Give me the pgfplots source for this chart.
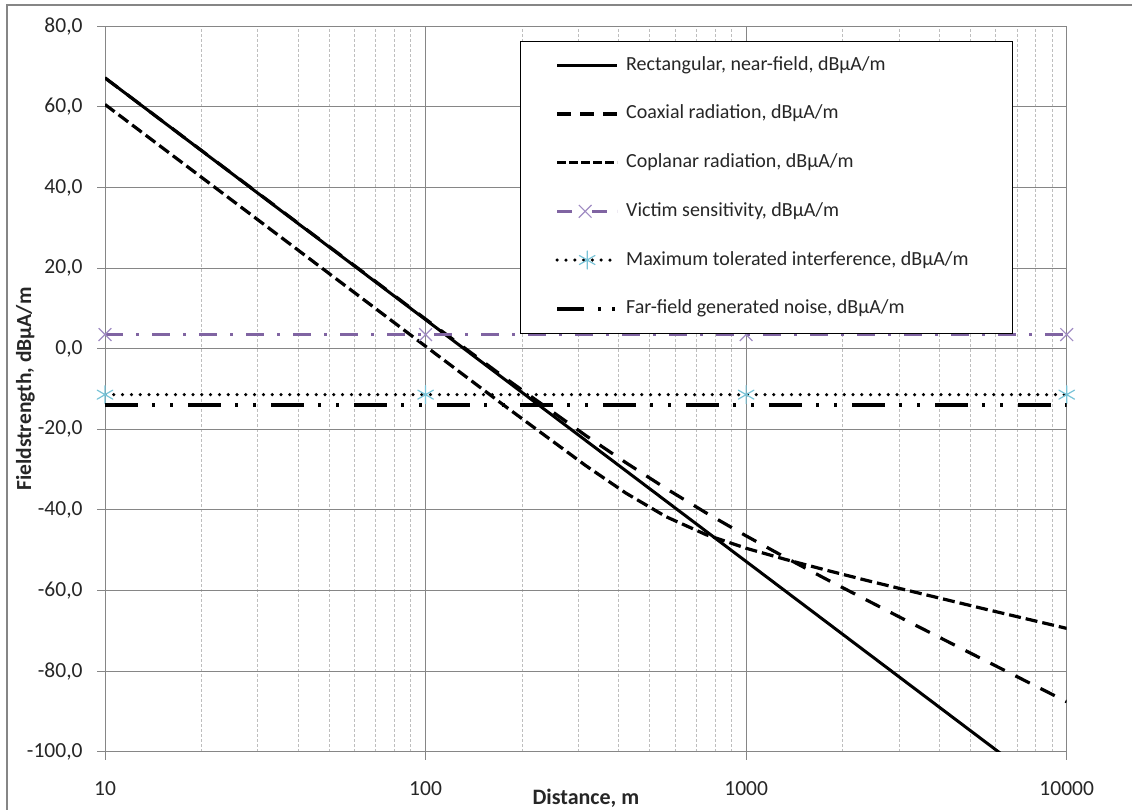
\documentclass[border=0pt]{standalone}
\usepackage{fontspec}
\setmainfont{Carlito}
\usepackage{pgfplots}
\pgfplotsset{compat=1.18}
\definecolor{gridc}{RGB}{134,134,134}
\definecolor{minorc}{RGB}{190,190,190}
\definecolor{vic}{RGB}{128,100,162}
\definecolor{vicm}{RGB}{160,140,195}
\definecolor{maxm}{RGB}{120,195,215}
\definecolor{txt}{RGB}{38,38,38}
\begin{document}
\begin{tikzpicture}[font=\fontsize{20}{24}\selectfont, x=1pt, y=1pt]
\useasboundingbox (0,0) rectangle (1132,809);
\draw[gridc, line width=2pt] (7,-5) -- (7,804) -- (1140,804);
\begin{axis}[
  at={(105pt,57.3pt)}, anchor=south west,
  width=961.7pt, height=725.4pt, scale only axis,
  xmode=log, xmin=10, xmax=10000, ymin=-100, ymax=80,
  xtick={10,100,1000,10000}, xticklabels={10,100,1000,10000},
  ytick={-100,-80,...,80},
  /pgf/number format/assume math mode=true,
  /pgf/number format/fixed, /pgf/number format/fixed zerofill,
  /pgf/number format/precision=1, /pgf/number format/use comma,
  tick align=outside, tick pos=left,
  major tick length=8pt, minor tick length=0pt,
  tick style={gridc, line width=1pt},
  axis line style={gridc, line width=1pt},
  xmajorgrids=true, xminorgrids=true, ymajorgrids=true,
  major grid style={gridc, line width=1pt},
  minor grid style={minorc, line width=1pt, dash pattern=on 3pt off 2pt},
  ticklabel style={txt, inner sep=0pt, font=\fontsize{21.5}{25}\selectfont},
  yticklabel style={anchor=east, xshift=-14.3pt},
  xticklabel style={anchor=north, yshift=-21.5pt},
  xlabel={\bfseries Distance, m},
  ylabel={\bfseries Fieldstrength, dBµA/m},
  xlabel style={at={(axis description cs:0.5,-0.0639)}, anchor=center, txt, font=\fontsize{22}{26}\selectfont},
  ylabel style={at={(axis description cs:-0.08267,0.5)}, anchor=center, txt, font=\fontsize{21.5}{25}\selectfont},
  clip mode=individual,
  legend cell align=left,
  legend style={at={(0.4315,0.9797)}, anchor=north west, draw=black, fill=white,
    inner xsep=35pt, inner ysep=15pt, row sep=30.7pt, column sep=7pt,
    nodes={inner sep=0pt, text height=14pt, text depth=4pt, txt}},
  legend image code/.code={\draw[mark repeat=2,mark phase=2] plot coordinates {(0pt,0pt) (30pt,0pt) (60pt,0pt)};},
]
\addplot[black, line width=3pt, solid] coordinates {(10,67.2) (100,7.2) (1000,-52.8) (10000,-112.8)};
\addlegendentry{\makebox[351pt][l]{Rectangular, near-field, dBµA/m}}
\addplot[black, line width=3.2pt, dash pattern=on 16pt off 12pt,
  legend image code/.code={\draw[dash pattern=on 14pt off 9pt] (0pt,0pt) -- (60pt,0pt);}] coordinates {
(10,67.2) (100,7.34) (177.8,-7.36) (316.2,-21.56) (421.7,-28.29) (562.3,-34.69) (749.9,-40.73) (1000,-46.45) (1334,-51.92) (1778,-57.19) (3162,-67.47) (5623,-77.56) (10000,-87.6)};
\addlegendentry{\makebox[351pt][l]{Coaxial radiation, dBµA/m}}
\addplot[black, line width=3.2pt, dash pattern=on 12pt off 5pt,
  legend image code/.code={\draw[dash pattern=on 9pt off 3pt] (0pt,0pt) -- (60pt,0pt);}] coordinates {
(10,60.6) (31.62,30.6) (100,0.6) (177.8,-14.37) (316.2,-29.03) (421.7,-35.84) (562.3,-41.68) (749.9,-46.15) (1000,-49.52) (1334,-52.34) (1778,-54.95) (2371,-57.48) (3162,-59.9) (5623,-64.7) (10000,-69.4)};
\addlegendentry{\makebox[351pt][l]{Coplanar radiation, dBµA/m}}
\addplot[vic, line width=3pt, dash pattern=on 18pt off 13pt on 3pt off 13pt, mark=x, mark size=9pt, mark options={solid, vicm, line width=1.2pt},
  legend image code/.code={\draw[dash pattern=on 15pt off 20pt on 15pt off 10pt] (0pt,0pt) -- (60pt,0pt); \draw[mark options={solid, vicm, line width=1.2pt}] plot[mark=x] coordinates {(28pt,0pt)};}] coordinates {(10,3.5) (100,3.5) (1000,3.5) (10000,3.5)};
\addlegendentry{\makebox[351pt][l]{Victim sensitivity, dBµA/m}}
\addplot[black, line width=3.5pt, line cap=round, dash pattern=on 0pt off 8.8pt, mark=asterisk, mark size=9pt, mark options={solid, maxm, line width=1.2pt}] coordinates {(10,-11.4) (100,-11.4) (1000,-11.4) (10000,-11.4)};
\addlegendentry{\makebox[351pt][l]{Maximum tolerated interference, dBµA/m}}
\addplot[black, line width=4pt, dash pattern=on 33pt off 14pt on 3pt off 15pt on 3pt off 15pt,
  legend image code/.code={\draw[dash pattern=on 27pt off 14pt on 3pt off 11pt on 3pt off 10pt] (0pt,0pt) -- (60pt,0pt);}] coordinates {(10,-14) (10000,-14)};
\addlegendentry{\makebox[351pt][l]{Far-field generated noise, dBµA/m}}
\end{axis}
\end{tikzpicture}
\end{document}
